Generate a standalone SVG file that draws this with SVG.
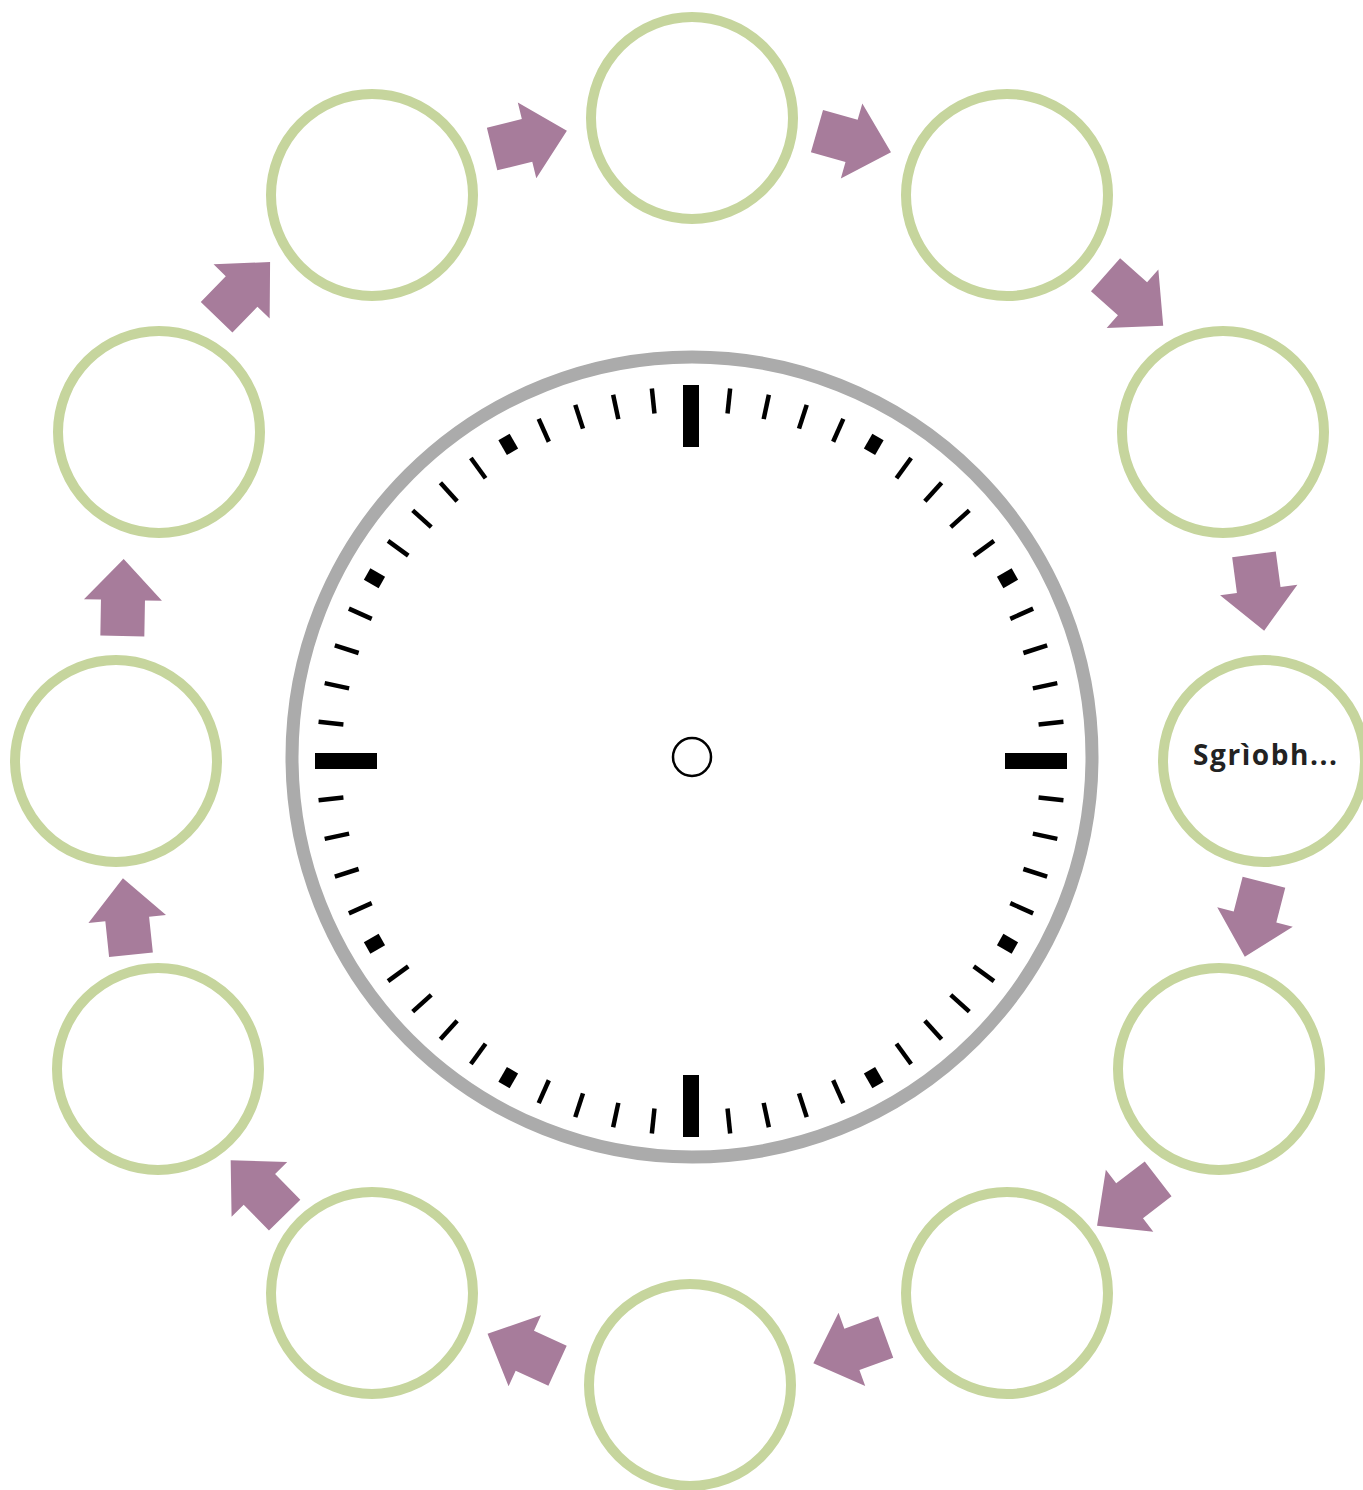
<svg xmlns="http://www.w3.org/2000/svg" xmlns:xlink="http://www.w3.org/1999/xlink" width="1363" height="1490" viewBox="0 0 1363 1490">
<style>
.node{fill:#fff;stroke:#c6d59d;stroke-width:10}
.arrow{fill:#a77c9b}
.lbl{font-family:"Open Sans","Liberation Sans",sans-serif;font-weight:700;font-size:28px;fill:#222}
.tk{fill:#000}
</style>
<defs>
<polygon id="arr" class="arrow" points="-38,-22 -2,-22 -2,-39 39,0 -2,39 -2,22 -38,22"/>
<rect id="tm" class="tk" x="-2.25" y="-374.5" width="4.5" height="25"/>
<rect id="t5" class="tk" x="-6.5" y="-374" width="13" height="17"/>
<rect id="tc" class="tk" x="-8" y="-376" width="16" height="62"/>
</defs>
<rect width="1363" height="1490" fill="#fff"/>
<g id="clock">
<circle cx="692" cy="757" r="400" fill="#fff" stroke="#ababab" stroke-width="13"/>
<g transform="translate(691,761)">
<use href="#tc"/><use href="#tc" transform="rotate(90)"/><use href="#tc" transform="rotate(180)"/><use href="#tc" transform="rotate(270)"/>
<use href="#t5" transform="rotate(30)"/><use href="#t5" transform="rotate(60)"/><use href="#t5" transform="rotate(120)"/><use href="#t5" transform="rotate(150)"/>
<use href="#t5" transform="rotate(210)"/><use href="#t5" transform="rotate(240)"/><use href="#t5" transform="rotate(300)"/><use href="#t5" transform="rotate(330)"/>
<use href="#tm" transform="rotate(6)"/><use href="#tm" transform="rotate(12)"/><use href="#tm" transform="rotate(18)"/><use href="#tm" transform="rotate(24)"/>
<use href="#tm" transform="rotate(36)"/><use href="#tm" transform="rotate(42)"/><use href="#tm" transform="rotate(48)"/><use href="#tm" transform="rotate(54)"/>
<use href="#tm" transform="rotate(66)"/><use href="#tm" transform="rotate(72)"/><use href="#tm" transform="rotate(78)"/><use href="#tm" transform="rotate(84)"/>
<use href="#tm" transform="rotate(96)"/><use href="#tm" transform="rotate(102)"/><use href="#tm" transform="rotate(108)"/><use href="#tm" transform="rotate(114)"/>
<use href="#tm" transform="rotate(126)"/><use href="#tm" transform="rotate(132)"/><use href="#tm" transform="rotate(138)"/><use href="#tm" transform="rotate(144)"/>
<use href="#tm" transform="rotate(156)"/><use href="#tm" transform="rotate(162)"/><use href="#tm" transform="rotate(168)"/><use href="#tm" transform="rotate(174)"/>
<use href="#tm" transform="rotate(186)"/><use href="#tm" transform="rotate(192)"/><use href="#tm" transform="rotate(198)"/><use href="#tm" transform="rotate(204)"/>
<use href="#tm" transform="rotate(216)"/><use href="#tm" transform="rotate(222)"/><use href="#tm" transform="rotate(228)"/><use href="#tm" transform="rotate(234)"/>
<use href="#tm" transform="rotate(246)"/><use href="#tm" transform="rotate(252)"/><use href="#tm" transform="rotate(258)"/><use href="#tm" transform="rotate(264)"/>
<use href="#tm" transform="rotate(276)"/><use href="#tm" transform="rotate(282)"/><use href="#tm" transform="rotate(288)"/><use href="#tm" transform="rotate(294)"/>
<use href="#tm" transform="rotate(306)"/><use href="#tm" transform="rotate(312)"/><use href="#tm" transform="rotate(318)"/><use href="#tm" transform="rotate(324)"/>
<use href="#tm" transform="rotate(336)"/><use href="#tm" transform="rotate(342)"/><use href="#tm" transform="rotate(348)"/><use href="#tm" transform="rotate(354)"/>
</g>
<circle cx="692" cy="757" r="19" fill="#fff" stroke="#000" stroke-width="2.5"/>
</g>
<g id="node-1"><circle class="node" cx="692" cy="118" r="101"/></g>
<g id="node-2"><circle class="node" cx="1007" cy="195" r="101"/></g>
<g id="node-3"><circle class="node" cx="1223" cy="432" r="101"/></g>
<g id="node-4"><circle class="node" cx="1264" cy="761" r="101"/><text class="lbl" x="1265" y="765" text-anchor="middle" textLength="144" lengthAdjust="spacing">Sgrìobh...</text></g>
<g id="node-5"><circle class="node" cx="1219" cy="1069" r="101"/></g>
<g id="node-6"><circle class="node" cx="1007" cy="1293" r="101"/></g>
<g id="node-7"><circle class="node" cx="690" cy="1385" r="101"/></g>
<g id="node-8"><circle class="node" cx="372" cy="1293" r="101"/></g>
<g id="node-9"><circle class="node" cx="158" cy="1069" r="101"/></g>
<g id="node-10"><circle class="node" cx="116" cy="761" r="101"/></g>
<g id="node-11"><circle class="node" cx="159" cy="432" r="101"/></g>
<g id="node-12"><circle class="node" cx="372" cy="195" r="101"/></g>
<g id="connectors">
<use href="#arr" transform="translate(529,140) rotate(-13.7)"/>
<use href="#arr" transform="translate(853.5,141.5) rotate(16)"/>
<use href="#arr" transform="translate(1134,300) rotate(41.5)"/>
<use href="#arr" transform="translate(1259,592) rotate(82.4)"/>
<use href="#arr" transform="translate(1254.5,919) rotate(104.4)"/>
<use href="#arr" transform="translate(1128,1202) rotate(142.5)"/>
<use href="#arr" transform="translate(850,1350) rotate(160)"/>
<use href="#arr" transform="translate(523,1350) rotate(204.6)"/>
<use href="#arr" transform="translate(258,1188) rotate(225.5)"/>
<use href="#arr" transform="translate(127,917) rotate(-96)"/>
<use href="#arr" transform="translate(123,598) rotate(-89)"/>
<use href="#arr" transform="translate(243,290) rotate(-46)"/>
</g>
</svg>
